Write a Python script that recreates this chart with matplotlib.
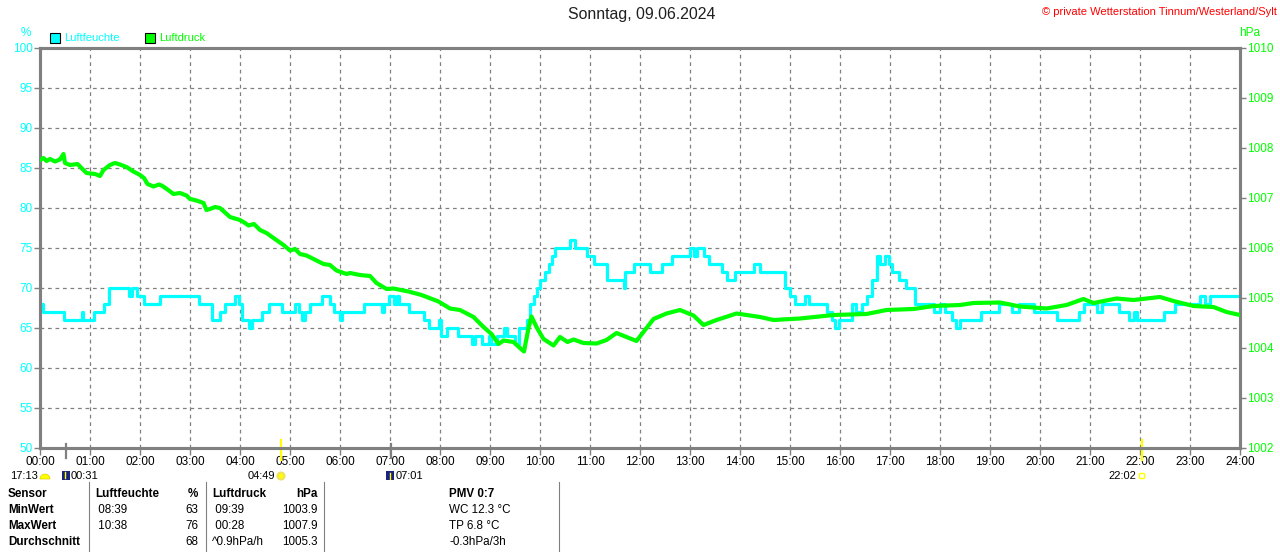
import matplotlib
matplotlib.use('Agg')
import matplotlib.pyplot as plt
from matplotlib import rcParams
from matplotlib.patches import Rectangle, Circle, Wedge
import matplotlib.transforms as mtransforms

rcParams['font.family'] = ['Liberation Sans', 'DejaVu Sans']
rcParams['font.size'] = 8

# Luftfeuchte (%), Stufenwerte: Stunde, Wert
hum_t = [0.00, 0.05, 0.47, 0.83, 0.86, 1.07, 1.17, 1.27, 1.37, 1.77, 1.83, 1.93, 2.07, 2.40,
         3.17, 3.43, 3.60, 3.70, 3.90, 3.97, 4.03, 4.17, 4.23, 4.43, 4.57, 4.83, 5.10, 5.17,
         5.23, 5.30, 5.40, 5.63, 5.80, 5.87, 6.00, 6.03, 6.47, 6.83, 6.87, 6.97, 7.07, 7.13,
         7.17, 7.37, 7.67, 7.77, 7.97, 8.03, 8.13, 8.37, 8.63, 8.70, 8.83, 8.97, 9.03, 9.13,
         9.27, 9.33, 9.50, 9.57, 9.73, 9.80, 9.87, 9.93, 10.00, 10.10, 10.17, 10.23, 10.30,
         10.60, 10.70, 10.93, 11.07, 11.33, 11.67, 11.70, 11.87, 12.20, 12.43, 12.63, 13.00,
         13.07, 13.13, 13.27, 13.37, 13.63, 13.73, 13.90, 14.27, 14.40, 14.90, 15.00, 15.10,
         15.30, 15.37, 15.73, 15.83, 15.90, 15.97, 16.23, 16.33, 16.43, 16.53, 16.63, 16.73,
         16.80, 16.90, 16.97, 17.03, 17.17, 17.33, 17.50, 17.87, 18.00, 18.10, 18.23, 18.33,
         18.40, 18.83, 19.17, 19.43, 19.57, 19.87, 20.33, 20.77, 20.87, 21.13, 21.23, 21.57,
         21.77, 21.87, 21.93, 22.47, 22.70, 23.20, 23.30, 23.40, 24.00]
hum_v = [68, 67, 66, 67, 66, 67, 67, 68, 70, 69, 70, 69, 68, 69,
         68, 66, 67, 68, 69, 68, 66, 65, 66, 67, 68, 67, 68, 67,
         66, 67, 68, 69, 68, 67, 66, 67, 68, 67, 68, 69, 68, 69,
         68, 67, 66, 65, 66, 64, 65, 64, 63, 64, 63, 64, 63, 64,
         65, 64, 63, 65, 66, 68, 69, 70, 71, 72, 73, 74, 75,
         76, 75, 74, 73, 71, 70, 72, 73, 72, 73, 74, 75,
         74, 75, 74, 73, 72, 71, 72, 73, 72, 70, 69, 68,
         69, 68, 67, 66, 65, 66, 68, 67, 68, 69, 71, 74,
         73, 74, 73, 72, 71, 70, 68, 67, 68, 67, 66, 65,
         66, 67, 68, 67, 68, 67, 66, 67, 68, 67, 68, 67,
         66, 67, 66, 67, 68, 69, 68, 69, 69]

# Luftdruck (hPa)
pres_t = [0.00, 0.07, 0.13, 0.20, 0.30, 0.40, 0.47, 0.50, 0.60, 0.75, 0.83, 0.93, 1.10, 1.20,
          1.27, 1.40, 1.50, 1.60, 1.73, 1.87, 2.00, 2.08, 2.15, 2.27, 2.38, 2.45, 2.55, 2.67,
          2.80, 2.93, 3.00, 3.13, 3.27, 3.33, 3.40, 3.50, 3.60, 3.80, 4.00, 4.10, 4.17, 4.28,
          4.40, 4.53, 4.67, 4.87, 5.00, 5.10, 5.20, 5.33, 5.47, 5.67, 5.80, 5.93, 6.13, 6.20,
          6.40, 6.60, 6.73, 6.93, 7.07, 7.37, 7.63, 7.97, 8.20, 8.40, 8.67, 8.87, 9.03, 9.17,
          9.27, 9.47, 9.60, 9.68, 9.77, 9.83, 9.93, 10.07, 10.27, 10.40, 10.55, 10.67, 10.87,
          11.13, 11.33, 11.53, 11.73, 11.93, 12.27, 12.53, 12.80, 13.07, 13.27, 13.53, 13.93,
          14.40, 14.67, 15.20, 15.87, 16.53, 16.93, 17.47, 17.87, 18.40, 18.67, 19.20, 19.60,
          20.13, 20.53, 20.87, 21.07, 21.53, 21.87, 22.40, 22.67, 23.07, 23.47, 23.73, 24.00]
pres_v = [1007.76, 1007.80, 1007.74, 1007.78, 1007.73, 1007.77, 1007.88, 1007.70, 1007.66,
          1007.68, 1007.60, 1007.50, 1007.48, 1007.44, 1007.56, 1007.66, 1007.70, 1007.67,
          1007.62, 1007.53, 1007.46, 1007.40, 1007.28, 1007.23, 1007.27, 1007.24, 1007.17,
          1007.08, 1007.10, 1007.05, 1006.98, 1006.95, 1006.90, 1006.76, 1006.78, 1006.82,
          1006.80, 1006.62, 1006.56, 1006.50, 1006.45, 1006.48, 1006.36, 1006.30, 1006.20,
          1006.06, 1005.95, 1005.98, 1005.88, 1005.85, 1005.78, 1005.68, 1005.66, 1005.55,
          1005.48, 1005.50, 1005.46, 1005.44, 1005.30, 1005.18, 1005.19, 1005.13, 1005.06,
          1004.93, 1004.79, 1004.76, 1004.62, 1004.42, 1004.28, 1004.08, 1004.15, 1004.12,
          1004.00, 1003.93, 1004.40, 1004.63, 1004.42, 1004.18, 1004.05, 1004.22, 1004.12,
          1004.17, 1004.10, 1004.09, 1004.16, 1004.30, 1004.22, 1004.14, 1004.58, 1004.69,
          1004.76, 1004.65, 1004.46, 1004.56, 1004.69, 1004.62, 1004.56, 1004.59, 1004.66,
          1004.68, 1004.76, 1004.78, 1004.84, 1004.86, 1004.90, 1004.91, 1004.83, 1004.79,
          1004.86, 1004.98, 1004.90, 1004.99, 1004.96, 1005.02, 1004.94, 1004.84, 1004.82,
          1004.72, 1004.66]

hour_labels = ['%02d:00' % h for h in range(25)]
hum_ticks = list(range(50, 101, 5))
pres_ticks = list(range(1002, 1011))

# Sonne / Mond Marken: (Stunde, Farbe)
marks = [(0.52, '#808080'), (4.82, '#FFFF00'), (7.02, '#808080'), (22.03, '#FFFF00')]

table_rows = [
    ['Sensor', 'Luftfeuchte', '%', 'Luftdruck', 'hPa', 'PMV 0:7'],
    ['MinWert', ' 08:39', '63', ' 09:39', '1003.9', 'WC 12.3 °C'],
    ['MaxWert', ' 10:38', '76', ' 00:28', '1007.9', 'TP 6.8 °C'],
    ['Durchschnitt', '', '68', '^0.9hPa/h', '1005.3', '-0.3hPa/3h'],
]

CYAN = '#00FFFF'
GREEN = '#00FF00'
GRAY = '#808080'

W, H = 1280, 552
fig = plt.figure(figsize=(W / 100, H / 100), dpi=100)
fig.patch.set_facecolor('white')

ax = fig.add_axes([40 / W, 1 - 448 / H, 1200 / W, 400 / H])
ax.set_xlim(0, 24)
ax.set_ylim(50, 100)
ax.set_xticks(range(25))
ax.set_xticklabels(hour_labels)
ax.set_yticks(hum_ticks)
ax.tick_params(axis='y', colors=GRAY, labelcolor=CYAN, length=4, width=1, labelsize=8.5, pad=1)
ax.tick_params(axis='x', colors=GRAY, labelcolor='black', length=5, width=1, labelsize=8.5, pad=1)
ax.grid(True, color=GRAY, linestyle=(0, (3, 3)), linewidth=0.9)
for s in ax.spines.values():
    s.set_color(GRAY)
    s.set_linewidth(2.2)

ax2 = ax.twinx()
ax2.set_ylim(1002, 1010)
ax2.set_yticks(pres_ticks)
ax2.tick_params(axis='y', colors=GRAY, labelcolor=GREEN, length=4, width=1, labelsize=8.5, pad=1)
for s in ax2.spines.values():
    s.set_color(GRAY)
    s.set_linewidth(2.2)

ax.step(hum_t, hum_v, where='post', color=CYAN, linewidth=2.3, zorder=3)
ax2.plot(pres_t, pres_v, color=GREEN, linewidth=3.0, zorder=3)
ax2.set_zorder(ax.get_zorder() + 1)
ax2.patch.set_visible(False)

trans = mtransforms.blended_transform_factory(ax.transData, ax.transAxes)
for h, c in marks:
    top, bot = (0.02, -0.03) if c != GRAY else (0.01, -0.025)
    ax.plot([h, h], [top, bot], color=c, linewidth=1.6, transform=trans, clip_on=False, zorder=5)

# Overlay in Pixelkoordinaten
ov = fig.add_axes([0, 0, 1, 1])
ov.set_xlim(0, W)
ov.set_ylim(H, 0)
ov.axis('off')
ov.patch.set_visible(False)

ov.text(642, 15, 'Sonntag, 09.06.2024', ha='center', va='center', fontsize=11.4, color='#202020')
ov.text(1277, 12, '© private Wetterstation Tinnum/Westerland/Sylt', ha='right', va='center',
        fontsize=8, color='#FF0000')
ov.text(26, 33, '%', ha='center', va='center', fontsize=8.5, color=CYAN)
ov.text(1250, 33, 'hPa', ha='center', va='center', fontsize=8.5, color=GREEN)

ov.add_patch(Rectangle((50, 33), 10, 10, facecolor=CYAN, edgecolor='black', linewidth=0.8))
ov.text(64, 38, 'Luftfeuchte', ha='left', va='center', fontsize=8, color=CYAN)
ov.add_patch(Rectangle((145, 33), 10, 10, facecolor=GREEN, edgecolor='black', linewidth=0.8))
ov.text(159, 38, 'Luftdruck', ha='left', va='center', fontsize=8, color=GREEN)

# Sonnen-/Mondzeiten unter der Achse
ry = 476
ov.text(10, ry, '17:13', ha='left', va='center', fontsize=8)
ov.add_patch(Wedge((45, ry + 3), 5, 180, 360, facecolor='#FFFF00', edgecolor='#E0D000', linewidth=0.5))
ov.add_patch(Rectangle((62, ry - 5), 8, 9, facecolor='#1A237E', edgecolor='none'))
ov.plot([65, 65], [ry - 4, ry + 2], color='#FFFF00', linewidth=1)
ov.text(71, ry, '00:31', ha='left', va='center', fontsize=8)
ov.text(248, ry, '04:49', ha='left', va='center', fontsize=8)
ov.add_patch(Circle((281, ry), 3.5, facecolor='#FFFF00', edgecolor='#F0E060', linewidth=1.5))
ov.add_patch(Rectangle((386, ry - 5), 8, 9, facecolor='#1A237E', edgecolor='none'))
ov.plot([390, 390], [ry - 3, ry + 3], color='#FFFF00', linewidth=1)
ov.text(396, ry, '07:01', ha='left', va='center', fontsize=8)
ov.text(1108, ry, '22:02', ha='left', va='center', fontsize=8)
ov.add_patch(Rectangle((1139, ry - 3), 5, 5, facecolor='white', edgecolor='#FFFF00', linewidth=1))

# Tabelle
for x in [89, 206, 324, 559]:
    ov.plot([x, x], [482, 552], color=GRAY, linewidth=0.8)

row_y = [494, 510, 526, 542]
for i, row in enumerate(table_rows):
    y = row_y[i]
    bold_head = 'bold' if i == 0 else 'normal'
    ov.text(8, y, row[0], ha='left', va='center', fontsize=8.4, fontweight='bold')
    ov.text(95, y, row[1], ha='left', va='center', fontsize=8.4, fontweight=bold_head)
    ov.text(198, y, row[2], ha='right', va='center', fontsize=8.4, fontweight=bold_head)
    ov.text(212, y, row[3], ha='left', va='center', fontsize=8.4, fontweight=bold_head)
    ov.text(318, y, row[4], ha='right', va='center', fontsize=8.4, fontweight=bold_head)
    ov.text(449, y, row[5], ha='left', va='center', fontsize=8.4, fontweight=bold_head)

fig.savefig('out.png', dpi=100)
